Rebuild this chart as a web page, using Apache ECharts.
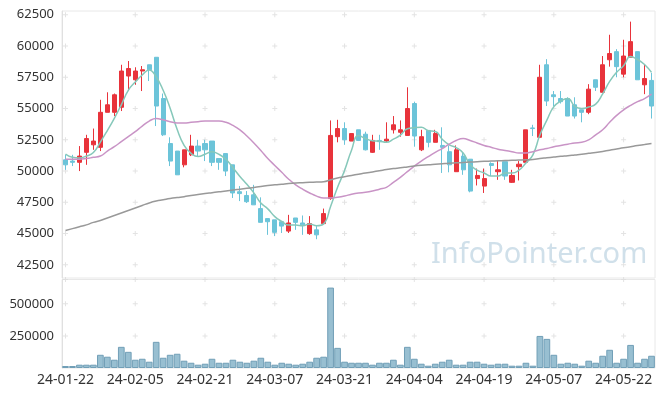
<!DOCTYPE html>
<html>
<head>
<meta charset="utf-8">
<script src="https://cdn.jsdelivr.net/npm/echarts@6/dist/echarts.min.js"></script>
<style>
  html, body { margin: 0; padding: 0; background: #fff; }
  #chart { width: 665px; height: 397px; }
</style>
</head>
<body>
<div id="chart"></div>
<script>
var dates = [
  '24-01-22','24-01-23','24-01-24','24-01-25','24-01-26','24-01-29','24-01-30','24-01-31','24-02-01','24-02-02',
  '24-02-05','24-02-06','24-02-07','24-02-08','24-02-13','24-02-14','24-02-15','24-02-16','24-02-19','24-02-20',
  '24-02-21','24-02-22','24-02-23','24-02-26','24-02-27','24-02-28','24-02-29','24-03-04','24-03-05','24-03-06',
  '24-03-07','24-03-08','24-03-11','24-03-12','24-03-13','24-03-14','24-03-15','24-03-18','24-03-19','24-03-20',
  '24-03-21','24-03-22','24-03-25','24-03-26','24-03-27','24-03-28','24-03-29','24-04-01','24-04-02','24-04-03',
  '24-04-04','24-04-05','24-04-08','24-04-09','24-04-11','24-04-12','24-04-15','24-04-16','24-04-17','24-04-18',
  '24-04-19','24-04-22','24-04-23','24-04-24','24-04-25','24-04-26','24-04-29','24-04-30','24-05-02','24-05-03',
  '24-05-07','24-05-08','24-05-09','24-05-10','24-05-13','24-05-14','24-05-16','24-05-17','24-05-20','24-05-21',
  '24-05-22','24-05-23','24-05-24','24-05-27','24-05-28'
];
var openP = [
  50900,50800,50700,51500,52100,51900,54700,54700,55100,57600,
  57300,58000,58500,59100,55800,52200,51600,50500,51300,52000,
  52200,52400,51000,51400,50500,48350,48050,48100,47000,46200,
  46100,45950,45200,46250,45850,45000,45300,45800,47800,52750,
  53400,52400,53300,52950,51500,52450,52400,53300,53100,52850,
  55400,51700,53250,52300,52050,51550,49950,51200,50950,49400,
  48800,50600,49950,50750,49100,50350,50700,53450,52700,58500,
  56100,55800,55800,55300,54900,54700,57300,56300,58900,59550,
  57750,59100,59550,56900,57250
];
var closeP = [
  50500,50700,51200,52600,52400,54700,55300,56100,58000,58200,
  58000,58100,58100,55200,52900,50800,49700,51700,52000,51600,
  51700,50700,50700,50000,48250,48200,47550,47300,45900,45950,
  45100,45600,45850,45900,45700,45800,44900,46600,52850,53400,
  52500,53000,52450,51700,52450,52350,52550,53700,53300,55000,
  52800,52750,52300,53000,51900,50500,51700,50100,48400,49650,
  49400,50450,50100,49600,49650,50550,53300,53400,57500,55600,
  55950,55550,54400,54400,54700,56550,56700,58500,59400,58350,
  59200,60350,57300,57400,55200
];
var lowP = [
  50100,50400,50000,50500,51700,51600,54700,54400,54800,56400,
  56900,56400,57200,53600,52800,50400,49700,50300,51200,51200,
  50800,50400,50100,49600,47850,47600,47450,47300,45900,44900,
  44800,45050,45050,45300,44900,44900,44550,45750,47700,52300,
  52100,52400,52400,51650,51450,51700,52250,53000,52750,52850,
  51950,51600,51900,52300,49850,49900,49950,49700,48300,48850,
  48250,49600,49300,49300,49050,49250,50700,52800,52700,55200,
  55200,55400,54400,54200,53900,54550,56400,56300,58350,57500,
  57500,59100,57300,56150,54200
];
var highP = [
  51300,51300,52000,52900,53400,55700,56300,56200,58500,58800,
  58300,58400,58500,59100,56200,52700,51600,51700,52900,52500,
  52500,52400,51000,51400,50500,48800,48400,48900,47900,46200,
  46100,45950,46500,46250,46450,46400,45600,47000,54050,54100,
  53900,53000,53300,53150,52900,52900,53900,54400,54050,56700,
  55550,53300,53250,53300,53500,52050,52050,51450,50950,50200,
  50200,50700,50850,50750,50100,50800,53300,53700,58500,58950,
  56400,56400,55900,55900,54900,56950,57300,59200,60900,59750,
  60500,61950,59550,58550,57850
];
var ma5 = [
  51350,51100,51050,51200,51480,52320,53240,54220,55300,56460,
  57120,57680,58080,57520,56460,55020,53340,52060,51420,51160,
  51340,51540,51340,50940,50270,49570,48940,48260,47440,46980,
  46360,45970,45680,45680,45630,45770,45630,45780,47170,48710,
  50050,51670,52840,52610,52420,52390,52300,52550,52870,53380,
  53470,53510,53230,53170,52550,52090,51880,51440,50520,50070,
  49850,49600,49600,49840,49840,50070,50640,51300,52880,54070,
  55150,55600,55800,55180,55000,55120,55350,56170,57170,57900,
  58430,59160,58920,58520,57890
];
var ma20 = [
  50950,50950,50950,51000,51100,51200,51600,51950,52350,52750,
  53150,53600,54000,54200,54100,53950,53850,53850,53900,53950,
  54000,54000,54000,53900,53650,53300,52800,52250,51650,51000,
  50450,49900,49350,48900,48550,48250,48000,47850,47850,47900,
  48000,48150,48250,48300,48400,48550,48700,49100,49500,49950,
  50400,50800,51150,51500,51800,52150,52450,52600,52450,52250,
  52050,51900,51750,51650,51550,51450,51450,51550,51700,51800,
  51950,52050,52150,52250,52300,52500,52900,53300,53900,54450,
  54900,55250,55550,55800,56150
];
var ma120 = [
  45250,45400,45550,45700,45900,46050,46250,46450,46650,46850,
  47050,47250,47450,47600,47700,47800,47880,47950,48050,48120,
  48200,48270,48340,48400,48480,48550,48620,48690,48760,48840,
  48900,48950,49000,49040,49070,49100,49120,49150,49300,49450,
  49550,49650,49750,49850,49930,50020,50120,50200,50260,50330,
  50400,50460,50510,50550,50590,50630,50660,50690,50720,50750,
  50780,50800,50820,50840,50860,50880,50900,50930,51000,51060,
  51120,51180,51230,51290,51350,51420,51490,51570,51660,51760,
  51860,51950,52040,52120,52200
];
var volume = [
  15500,15500,25800,25800,25800,103000,88000,64500,165000,126000,
  64500,72000,49000,204000,80000,103000,111000,57000,41000,25800,
  33500,72000,41000,41000,64500,49000,41000,57000,80000,49000,
  25800,41000,33500,25800,33500,49000,80000,88000,627000,157000,
  49000,41000,41000,41000,25800,41000,41000,64500,25800,165000,
  72000,33500,18000,33500,49000,64500,25800,25800,49000,49000,
  33500,25800,33500,33500,18000,18000,41000,18000,250000,227000,
  103000,33500,41000,33500,18000,57000,41000,95500,142000,41000,
  72000,180000,41000,72000,95500
];
var priceTicks = [42500,45000,47500,50000,52500,55000,57500,60000,62500];
var volumeTicks = [250000,500000,690000];
var labelEvery = 10;

var chart = echarts.init(document.getElementById('chart'));

var candles = [];
for (var i = 0; i < dates.length; i++) {
  candles.push([openP[i], closeP[i], lowP[i], highP[i]]);
}

// small "+" marks where the label columns meet the tick rows
function crosses(ticks) {
  var pts = [];
  for (var c = 0; c < dates.length; c += labelEvery) {
    for (var t = 0; t < ticks.length; t++) {
      pts.push([c, ticks[t]]);
    }
  }
  return pts;
}

var font = 'Noto Sans';
var plus = 'path://M2 0H3V5H2ZM0 2H5V3H0Z';

var option = {
  animation: false,
  textStyle: { fontFamily: font },
  graphic: [{
    type: 'text',
    left: 431,
    top: 240,
    silent: true,
    z: 1,
    style: {
      text: 'InfoPointer.com',
      font: '29px "Noto Sans"',
      fill: '#d0e0ea'
    }
  }],
  grid: [
    { left: 62, right: 10, top: 11, height: 267, show: true, borderColor: '#e8e8e8', borderWidth: 1 },
    { left: 62, right: 10, top: 279.5, height: 88.5, show: true, borderColor: '#e8e8e8', borderWidth: 1 }
  ],
  xAxis: [{
    type: 'category',
    gridIndex: 0,
    data: dates,
    boundaryGap: true,
    axisLine: { show: false },
    axisTick: { show: false },
    axisLabel: { show: false },
    splitLine: { show: false }
  }, {
    type: 'category',
    gridIndex: 1,
    data: dates,
    boundaryGap: true,
    axisLine: { show: false },
    axisTick: { show: false },
    axisLabel: {
      interval: labelEvery - 1,
      color: '#333',
      fontSize: 14,
      margin: 5
    },
    splitLine: { show: false }
  }],
  yAxis: [{
    type: 'value',
    gridIndex: 0,
    min: 41450,
    max: 62800,
    minInterval: 2500,
    maxInterval: 2500,
    axisLine: { show: true, lineStyle: { color: '#e0e0e0' } },
    axisTick: { show: false },
    splitLine: { show: false },
    axisLabel: {
      color: '#333',
      fontSize: 13,
      margin: 8,
      showMinLabel: false,
      showMaxLabel: false,
      formatter: function (v) { return v % 2500 === 0 ? String(v) : ''; }
    }
  }, {
    type: 'value',
    gridIndex: 1,
    min: 0,
    max: 690000,
    interval: 250000,
    axisLine: { show: true, lineStyle: { color: '#e0e0e0' } },
    axisTick: { show: false },
    splitLine: { show: false },
    axisLabel: {
      color: '#333',
      fontSize: 13,
      margin: 8,
      showMinLabel: false,
      showMaxLabel: false,
      formatter: function (v) { return v > 0 && v % 250000 === 0 ? String(v) : ''; }
    }
  }],
  series: [{
    type: 'scatter',
    xAxisIndex: 0,
    yAxisIndex: 0,
    silent: true,
    symbol: plus,
    symbolSize: 5,
    itemStyle: { color: '#dcdcdc' },
    data: crosses(priceTicks),
    z: 0
  }, {
    type: 'scatter',
    xAxisIndex: 1,
    yAxisIndex: 1,
    silent: true,
    symbol: plus,
    symbolSize: 5,
    itemStyle: { color: '#dcdcdc' },
    data: crosses(volumeTicks),
    z: 0
  }, {
    name: 'Price',
    type: 'candlestick',
    xAxisIndex: 0,
    yAxisIndex: 0,
    barWidth: '66%',
    data: candles,
    itemStyle: {
      color: '#e8333b',
      color0: '#6cc4d9',
      borderColor: '#e8333b',
      borderColor0: '#6cc4d9',
      borderWidth: 1
    },
    z: 3
  }, {
    name: 'MA5',
    type: 'line',
    xAxisIndex: 0,
    yAxisIndex: 0,
    data: ma5,
    smooth: true,
    symbol: 'none',
    lineStyle: { color: '#86c8ba', width: 1.5 },
    z: 4
  }, {
    name: 'MA20',
    type: 'line',
    xAxisIndex: 0,
    yAxisIndex: 0,
    data: ma20,
    smooth: true,
    symbol: 'none',
    lineStyle: { color: '#c994c6', width: 1.5 },
    z: 4
  }, {
    name: 'MA120',
    type: 'line',
    xAxisIndex: 0,
    yAxisIndex: 0,
    data: ma120,
    smooth: true,
    symbol: 'none',
    lineStyle: { color: '#999999', width: 1.5 },
    z: 4
  }, {
    name: 'Volume',
    type: 'bar',
    xAxisIndex: 1,
    yAxisIndex: 1,
    data: volume,
    barCategoryGap: '4%',
    itemStyle: {
      color: '#98bfd1',
      borderColor: '#719fb7',
      borderWidth: 1
    },
    z: 3
  }]
};

chart.setOption(option);
</script>
</body>
</html>
